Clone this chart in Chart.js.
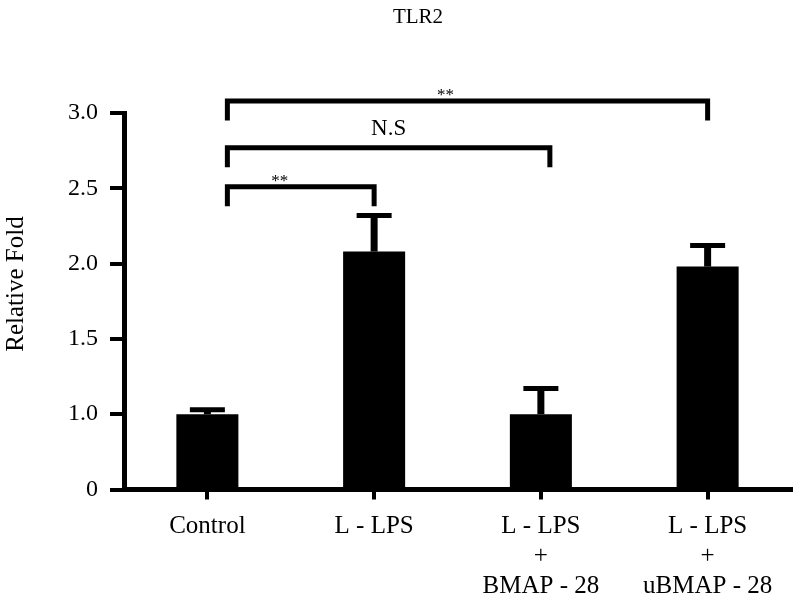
<!DOCTYPE html>
<html>
<head>
<meta charset="utf-8">
<script src="https://cdn.jsdelivr.net/npm/chart.js@4/dist/chart.umd.min.js"></script>
<style>
  body { margin: 0; background: #fff; }
  #wrap { width: 794px; height: 601px; position: relative; }
</style>
</head>
<body>
<div id="wrap"><canvas id="tlrChart"></canvas></div>
<script>
const groups = [["Control"], ["L - LPS"], ["L - LPS", "+", "BMAP - 28"], ["L - LPS", "+", "uBMAP - 28"]];
const foldMean = [1.0, 2.08, 1.0, 1.98];
const foldErr = [0.03, 0.24, 0.17, 0.14];
const yTickLabels = ["0", "1.0", "1.5", "2.0", "2.5", "3.0"];

// significance brackets: group index pairs, bracket level (fold units), label
const compareFrom = [0, 0, 0];
const compareTo = [1, 2, 3];
const compareLevel = [2.51, 2.77, 3.08];
const compareText = ["**", "N.S", "**"];

// axis has a break: 0..1.0 takes the same room as one 0.5 step
function toAxis(v) {
  return v <= 1 ? v / 2 : v - 0.5;
}

const serif = "'Liberation Serif', 'Times New Roman', serif";

const extras = {
  id: "extras",
  afterDatasetsDraw(chart) {
    const ctx = chart.ctx;
    const xs = chart.scales.x;
    const ys = chart.scales.y;
    const bars = chart.getDatasetMeta(0).data;
    ctx.save();
    ctx.strokeStyle = "#000";
    ctx.fillStyle = "#000";

    // error bars (upper only)
    bars.forEach(function (bar, i) {
      const yTop = ys.getPixelForValue(toAxis(foldMean[i] + foldErr[i]));
      ctx.lineWidth = 7;
      ctx.beginPath();
      ctx.moveTo(bar.x, bar.y);
      ctx.lineTo(bar.x, yTop);
      ctx.stroke();
      ctx.lineWidth = 5;
      ctx.beginPath();
      ctx.moveTo(bar.x - 17.5, yTop);
      ctx.lineTo(bar.x + 17.5, yTop);
      ctx.stroke();
    });

    // brackets
    const textShift = [-21, 0, -22];
    compareFrom.forEach(function (a, i) {
      const x1 = xs.getPixelForValue(a) + 20;
      const x2 = xs.getPixelForValue(compareTo[i]) + (i === 1 ? 9 : 0);
      const y = ys.getPixelForValue(toAxis(compareLevel[i]));
      ctx.lineWidth = 5;
      ctx.lineCap = "square";
      ctx.beginPath();
      ctx.moveTo(x1, y + 17);
      ctx.lineTo(x1, y);
      ctx.lineTo(x2, y);
      ctx.lineTo(x2, y + 17);
      ctx.stroke();
      ctx.textAlign = "center";
      ctx.textBaseline = "alphabetic";
      const mid = (x1 + x2) / 2 + textShift[i];
      if (compareText[i] === "**") {
        ctx.font = "17px " + serif;
        ctx.fillText(compareText[i], mid, y - 1);
      } else {
        ctx.font = "23px " + serif;
        ctx.fillText(compareText[i], mid, y - 13);
      }
    });

    // chart title
    ctx.font = "21px " + serif;
    ctx.textAlign = "center";
    ctx.textBaseline = "middle";
    ctx.fillText("TLR2", 418, 17);

    // y axis title
    ctx.translate(16, 284);
    ctx.rotate(-Math.PI / 2);
    ctx.font = "25px " + serif;
    ctx.fillText("Relative Fold", 0, 0);
    ctx.restore();
  }
};

new Chart(document.getElementById("tlrChart"), {
  type: "bar",
  data: {
    labels: groups,
    datasets: [
      {
        data: foldMean.map(toAxis),
        backgroundColor: "#000",
        borderWidth: 0,
        categoryPercentage: 1,
        barPercentage: 0.372
      }
    ]
  },
  options: {
    responsive: true,
    maintainAspectRatio: false,
    animation: false,
    layout: { padding: { top: 113, right: 3, left: 0, bottom: 0 } },
    plugins: {
      legend: { display: false },
      tooltip: { enabled: false },
      title: { display: false }
    },
    scales: {
      x: {
        afterFit: function (scale) { scale.height = 111.5; },
        border: { color: "#000", width: 5 },
        grid: { offset: false, drawOnChartArea: false, color: "#000", lineWidth: 4, tickLength: 10 },
        ticks: {
          color: "#000",
          maxRotation: 0,
          autoSkip: false,
          padding: 12,
          font: { family: serif, size: 25, lineHeight: 1.2 }
        }
      },
      y: {
        min: 0,
        max: 2.5,
        afterFit: function (scale) { scale.width = 124; },
        border: { color: "#000", width: 5 },
        grid: { drawOnChartArea: false, color: "#000", lineWidth: 4, tickLength: 14 },
        ticks: {
          stepSize: 0.5,
          color: "#000",
          padding: 12,
          font: { family: serif, size: 24 },
          callback: function (value, index) { return yTickLabels[index]; }
        }
      }
    }
  },
  plugins: [extras]
});
</script>
</body>
</html>
